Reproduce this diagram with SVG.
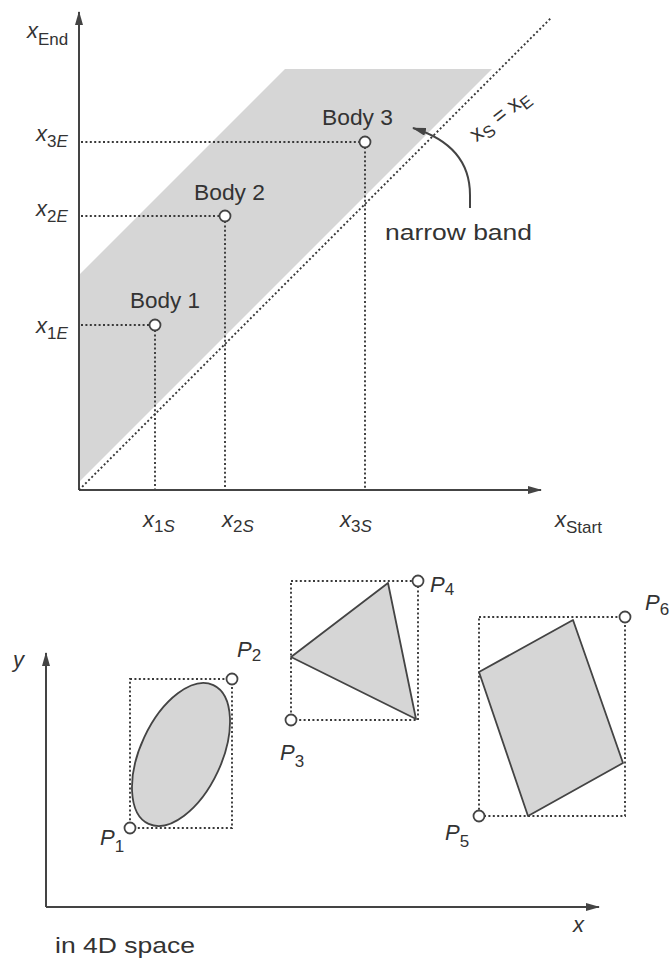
<svg xmlns="http://www.w3.org/2000/svg" width="670" height="960" viewBox="0 0 670 960">
<style>
.t{font-family:"Liberation Sans",Arial,Helvetica,sans-serif;fill:#333;font-size:22px}
.i{font-style:italic}
.s{font-size:17px}
.ax{stroke:#444;stroke-width:2;fill:none}
.dot{stroke:#3a3a3a;stroke-width:1.9;stroke-dasharray:2 2.4;fill:none}
.pt{fill:#fff;stroke:#444;stroke-width:1.8}
.sh{fill:#d6d6d6;stroke:#444;stroke-width:1.8;stroke-linejoin:round}
</style>
<defs>
<marker id="arr" viewBox="0 0 14 8" refX="13" refY="4" markerWidth="14" markerHeight="8" markerUnits="userSpaceOnUse" orient="auto">
<path d="M0,0 L14,4 L0,8 z" fill="#444"/>
</marker>
</defs>
<rect width="670" height="960" fill="#fff"/>

<!-- Top plot -->
<g id="band"><polygon points="79,275 285,69 492,69 79,482" fill="#d6d6d6"/></g>
<g id="connectors">
<line class="ax" x1="79" y1="490" x2="79" y2="12" marker-end="url(#arr)"/>
<line class="ax" x1="79" y1="490" x2="541" y2="490" marker-end="url(#arr)"/>
<line class="dot" x1="79" y1="490" x2="551" y2="18"/>
<line class="dot" x1="81" y1="325" x2="150" y2="325"/>
<line class="dot" x1="81" y1="216" x2="220" y2="216"/>
<line class="dot" x1="81" y1="142" x2="360" y2="142"/>
<line class="dot" x1="155" y1="330" x2="155" y2="489"/>
<line class="dot" x1="225" y1="221" x2="225" y2="489"/>
<line class="dot" x1="365" y1="147" x2="365" y2="489"/>
<path class="ax" d="M470,208 L470,195 C470,162 452,140 413,128" marker-end="url(#arr)"/>
<!-- bottom axes -->
<line class="ax" x1="46" y1="907" x2="46" y2="653" marker-end="url(#arr)"/>
<line class="ax" x1="46" y1="907" x2="599" y2="907" marker-end="url(#arr)"/>
<rect class="dot" x="130" y="679" width="102" height="149"/>
<rect class="dot" x="291" y="581" width="127" height="139"/>
<rect class="dot" x="479" y="617" width="146" height="199"/>
</g>

<g id="body1"><circle class="pt" cx="155" cy="325" r="5.5"/><text class="t" x="130" y="308" textLength="70" lengthAdjust="spacingAndGlyphs">Body 1</text></g>
<g id="body2"><circle class="pt" cx="225" cy="216" r="5.5"/><text class="t" x="194" y="200" textLength="71" lengthAdjust="spacingAndGlyphs">Body 2</text></g>
<g id="body3"><circle class="pt" cx="365" cy="142" r="5.5"/><text class="t" x="322" y="125" textLength="71" lengthAdjust="spacingAndGlyphs">Body 3</text></g>

<g id="labels-top">
<text class="t" x="27" y="38" font-size="23"><tspan class="i">x</tspan><tspan class="s" dy="7">End</tspan></text>
<text class="t" x="36" y="141" font-size="23"><tspan class="i">x</tspan><tspan class="s" dy="6">3<tspan class="i">E</tspan></tspan></text>
<text class="t" x="36" y="216" font-size="23"><tspan class="i">x</tspan><tspan class="s" dy="6">2<tspan class="i">E</tspan></tspan></text>
<text class="t" x="36" y="333" font-size="23"><tspan class="i">x</tspan><tspan class="s" dy="6">1<tspan class="i">E</tspan></tspan></text>
<text class="t" x="143" y="527" font-size="23"><tspan class="i">x</tspan><tspan class="s" dy="5">1<tspan class="i">S</tspan></tspan></text>
<text class="t" x="222" y="527" font-size="23"><tspan class="i">x</tspan><tspan class="s" dy="5">2<tspan class="i">S</tspan></tspan></text>
<text class="t" x="340" y="527" font-size="23"><tspan class="i">x</tspan><tspan class="s" dy="5">3<tspan class="i">S</tspan></tspan></text>
<text class="t" x="555" y="527" font-size="23"><tspan class="i">x</tspan><tspan class="s" dy="6">Start</tspan></text>
<text class="t" x="385" y="240" textLength="147" lengthAdjust="spacingAndGlyphs">narrow band</text>
<text class="t" transform="translate(504,121) rotate(-38)" text-anchor="middle" font-size="22"><tspan>x</tspan><tspan class="s" dy="5">S</tspan><tspan dy="-5"> = </tspan><tspan>x</tspan><tspan class="s" dy="5">E</tspan></text>
</g>

<!-- Bottom plot -->
<g id="ellipse-body">
<ellipse class="sh" cx="181" cy="754.5" rx="76.6" ry="40.6" transform="rotate(-65 181 754.5)"/>
<circle class="pt" cx="130" cy="828" r="5.5"/>
<circle class="pt" cx="232" cy="679" r="5.5"/>
<text class="t i" x="100" y="845" font-size="24">P<tspan class="s" font-style="normal" dy="7">1</tspan></text>
<text class="t i" x="237" y="657" font-size="24">P<tspan class="s" font-style="normal" dy="4">2</tspan></text>
</g>
<g id="triangle-body">
<polygon class="sh" points="388,583 291,657 416,719"/>
<circle class="pt" cx="291" cy="720" r="5.5"/>
<circle class="pt" cx="418" cy="581" r="5.5"/>
<text class="t i" x="280" y="760" font-size="24">P<tspan class="s" font-style="normal" dy="7">3</tspan></text>
<text class="t i" x="430" y="592" font-size="24">P<tspan class="s" font-style="normal" dy="3">4</tspan></text>
</g>
<g id="rect-body">
<polygon class="sh" points="573,620 479,672 528,816 623,763"/>
<circle class="pt" cx="479" cy="816" r="5.5"/>
<circle class="pt" cx="625" cy="617" r="5.5"/>
<text class="t i" x="445" y="840" font-size="24">P<tspan class="s" font-style="normal" dy="7">5</tspan></text>
<text class="t i" x="645" y="610" font-size="24">P<tspan class="s" font-style="normal" dy="5">6</tspan></text>
</g>
<g id="labels-bottom">
<text class="t i" x="13" y="667" font-size="23">y</text>
<text class="t i" x="573" y="932" font-size="23">x</text>
<text class="t" x="55" y="953" textLength="140" lengthAdjust="spacingAndGlyphs">in 4D space</text>
</g>
</svg>
